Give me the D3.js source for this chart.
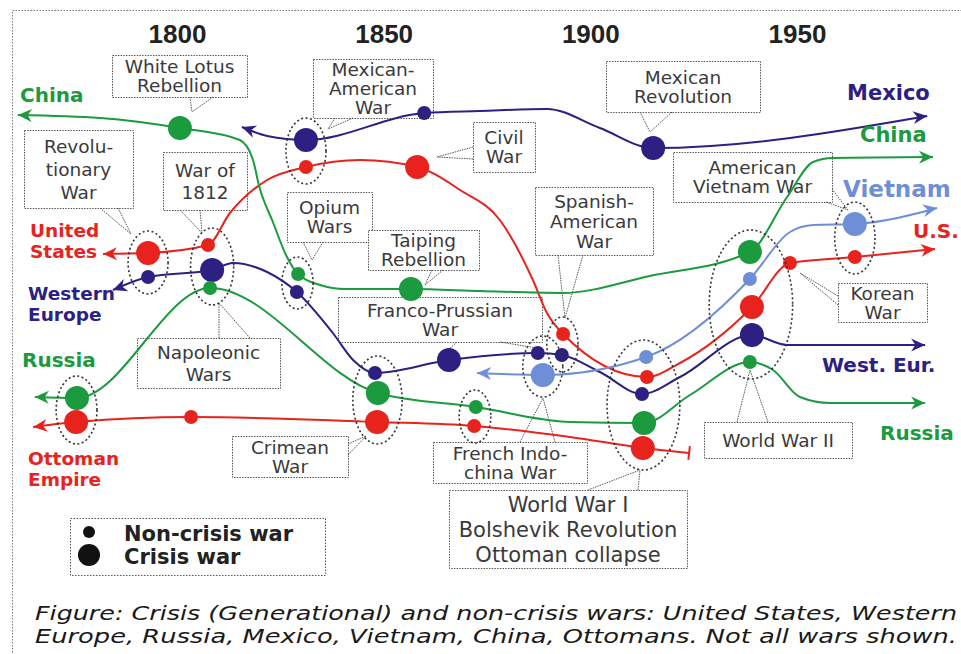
<!DOCTYPE html>
<html>
<head>
<meta charset="utf-8">
<title>Crisis and non-crisis wars</title>
<script src="https://d3js.org/d3.v7.min.js"></script>
<style>
  body { margin: 0; background: #fff; }
  svg { display: block; font-family: "DejaVu Sans", sans-serif; }
  .frame { fill: none; stroke: #777; stroke-dasharray: 1.5,1.5; }
  .callout rect { fill: #fff; stroke: #555; stroke-dasharray: 1.5,1.2; }
  .callout text { fill: #3a3a3a; text-anchor: middle; }
  .callout line { stroke: #555; stroke-dasharray: 1.5,1; }
  .ring { fill: none; stroke: #333; stroke-width: 1.6; stroke-dasharray: 2,2.5; }
  .series path.trend { fill: none; stroke-width: 2; }
  .label { font-weight: bold; font-size: 18.5px; }
  .years text { font-weight: bold; font-size: 26px; fill: #222; }
  .legend text { font-weight: bold; font-size: 21px; fill: #222; }
  .caption { font-style: italic; font-size: 20px; fill: #1a1a1a; }
</style>
</head>
<body>
<svg width="961" height="654"></svg>
<script>
var years = [1800, 1850, 1900, 1950];

// each point: [year, level, war type, war group]
// war type "n" = non-crisis war, "c" = crisis war
var mexico = [
  [1815.7, 88.25], [1821.8, 86], [1831.2, 85, "c", "mexam"], [1859.8, 91.75, "n"],
  [1873.3, 92.25], [1889.5, 92.75], [1902.3, 88], [1915.2, 83, "c"], [1981.5, 91]
];
var unitedStates = [
  [1782.1, 56.5], [1793, 56.75, "c", "rev"], [1807.5, 58.75, "n", "nap"], [1812.8, 66.75],
  [1821.8, 75], [1831.2, 78.25, "n", "mexam"], [1844.3, 80], [1858.1, 78.25, "c"],
  [1868.5, 72.5], [1878.1, 65], [1886.1, 50], [1889.5, 41.75], [1893.4, 36.5, "n", "spam"],
  [1913.7, 25.75, "n", "ww1"], [1921.7, 29.25], [1939.1, 43.25, "c", "ww2"],
  [1948.3, 54.25, "n"], [1964, 55.75, "n", "viet"], [1983.4, 57.75]
];
var westernEurope = [
  [1784.5, 47.5], [1793, 50.75, "n", "rev"], [1808.5, 52.5, "c", "nap"], [1813.5, 54.25],
  [1821.8, 52], [1829, 47, "n", "opium"], [1837.7, 36.75], [1842.6, 30],
  [1847.9, 26.75, "n", "crimea"], [1865.8, 30, "c"], [1887.3, 31.75, "n", "indo"],
  [1893.1, 31.25, "n", "spam"], [1902.3, 27], [1912.5, 21.5, "n", "ww1"], [1921.7, 25.75],
  [1939.1, 36.25, "c", "ww2"], [1947.6, 33.75], [1981, 33.75]
];
var russia = [
  [1765.6, 20.75], [1775.8, 20.5, "c", "rt"], [1808, 48, "n", "nap"],
  [1848.6, 21.75, "c", "crimea"], [1872.3, 18.25, "n", "rt2"], [1895.1, 14.5],
  [1913, 14.25, "c", "ww1"], [1924.1, 21.25], [1938.6, 29.5, "n", "ww2"], [1944.2, 27.5],
  [1950.7, 20.75], [1958, 19.25], [1981, 19.25]
];
var ottoman = [
  [1765.2, 13.25], [1775.6, 14.5, "c", "rt"], [1803.4, 15.75, "n"],
  [1848.4, 14.5, "c", "crimea"], [1871.9, 13.5, "n", "rt2"], [1895.1, 10.75],
  [1912.7, 8, "c", "ww1"], [1923.9, 6.75]
];
var china = [
  [1761.5, 91.25], [1781.4, 90.5], [1800.7, 88, "c"], [1815.2, 85], [1818.4, 80],
  [1819.8, 73.75], [1823.2, 64.5], [1826.6, 55.75], [1829.3, 51.5, "n", "opium"],
  [1834.6, 48.75], [1840.6, 47.75], [1856.6, 47.75, "c"], [1873.3, 47.25], [1893.1, 46.75],
  [1914.4, 51], [1938.6, 57, "c", "ww2"], [1947.6, 70.75], [1953.9, 79.5], [1958.7, 80.5],
  [1982.9, 80.75]
];
var vietnam = [
  [1872.6, 26.75], [1888.5, 26.25, "c", "indo"], [1913.5, 30.75, "n", "ww1"],
  [1938.6, 50.25, "n", "ww2"], [1948.3, 62], [1953.9, 63.75], [1964, 64, "c", "viet"],
  [1983.9, 68]
];

var seriesNames = ["Mexico", "United States", "Western Europe", "Russia", "Ottoman Empire", "China", "Vietnam"];
var seriesData = [mexico, unitedStates, westernEurope, russia, ottoman, china, vietnam];
var circled = ["rev", "nap", "mexam", "opium", "crimea", "rt", "rt2", "indo", "spam", "ww1", "ww2", "viet"];
var warTypes = ["n", "c"];
var legendLabels = ["Non-crisis war", "Crisis war"];
var caption = [
  "Figure: Crisis (Generational) and non-crisis wars: United States, Western",
  "Europe, Russia, Mexico, Vietnam, China, Ottomans.  Not all wars shown."
];

var colour = {
  "Mexico": "#2c2182", "United States": "#e8231d", "Western Europe": "#2c2182",
  "Russia": "#1c9a3e", "Ottoman Empire": "#e8231d", "China": "#1c9a3e", "Vietnam": "#6f8ed8"
};
var endEnd = { "Ottoman Empire": "bar" };

var svg = d3.select("svg");
var x = d3.scaleLinear().domain([1800, 1950]).range([177, 797]);
var y = d3.scaleLinear().domain([0, 100]).range([480, 80]);
var r = d3.scaleOrdinal().domain(warTypes).range([7, 12]);

svg.append("rect").attr("class", "frame")
  .attr("x", 12.5).attr("y", 10.5).attr("width", 980).attr("height", 700);

// year axis along the top
var yearAxis = svg.append("g").attr("class", "years")
  .attr("transform", "translate(0,43)")
  .call(d3.axisTop(x).tickValues(years).tickSize(0).tickPadding(0).tickFormat(d3.format("d")));
yearAxis.select(".domain").remove();
yearAxis.selectAll("text").attr("font-family", null).attr("font-size", null).attr("fill", null);

// callout boxes
var callouts = [
  { lines: ["White Lotus", "Rebellion"], box: [112, 55, 135, 42], segs: [[190, 97, 192, 112], [213, 97, 192, 112]] },
  { lines: ["Mexican-", "American", "War"], box: [313, 59, 120, 59], segs: [[335, 118, 328, 129], [353, 118, 328, 129]] },
  { lines: ["Civil", "War"], box: [473, 122, 62, 50], segs: [[473, 147, 437, 157], [473, 159, 437, 157]] },
  { lines: ["Mexican", "Revolution"], box: [606, 61, 154, 51], segs: [[640, 112, 650, 132], [672, 112, 650, 132]] },
  { lines: ["Revolu-", "tionary", "War"], box: [24, 130, 109, 78], segs: [[100, 208, 131, 234], [118, 208, 131, 234]], lh: 23 },
  { lines: ["War of", "1812"], box: [163, 152, 84, 58], segs: [[180, 210, 202, 233], [200, 210, 202, 233]], lh: 22 },
  { lines: ["Opium", "Wars"], box: [287, 192, 85, 50], segs: [[303, 242, 312, 260], [323, 242, 312, 260]] },
  { lines: ["Taiping", "Rebellion"], box: [368, 230, 111, 40], segs: [[432, 270, 425, 285], [443, 270, 425, 285]] },
  { lines: ["Franco-Prussian", "War"], box: [338, 297, 204, 45], segs: [[457, 342, 449, 349], [500, 342, 537, 348]] },
  { lines: ["Spanish-", "American", "War"], box: [535, 187, 118, 68], segs: [[558, 255, 565, 318], [583, 255, 565, 318]], lh: 20 },
  { lines: ["American", "Vietnam War"], box: [673, 152, 159, 50], segs: [[826, 202, 848, 210], [832, 189, 848, 210]] },
  { lines: ["Napoleonic", "Wars"], box: [137, 338, 143, 50], segs: [[219, 338, 219, 303], [250, 338, 219, 303]], lh: 22 },
  { lines: ["Korean", "War"], box: [838, 283, 89, 39], segs: [[838, 296, 800, 273], [838, 305, 800, 273]] },
  { lines: ["Crimean", "War"], box: [232, 436, 116, 41], segs: [[348, 444, 366, 436], [348, 455, 366, 436]] },
  { lines: ["French Indo-", "china War"], box: [433, 442, 154, 41], segs: [[520, 442, 543, 398], [555, 442, 543, 398]] },
  { lines: ["World War I", "Bolshevik Revolution", "Ottoman collapse"], box: [449, 490, 238, 78], segs: [[588, 490, 640, 470], [638, 490, 640, 470]], lh: 25, size: 21 },
  { lines: ["World War II"], box: [704, 422, 148, 36], segs: [[737, 422, 750, 370], [768, 422, 750, 370]] }
];

var co = svg.append("g").selectAll("g.callout")
  .data(callouts)
  .enter()
  .append("g")
    .attr("class", "callout");
co.append("rect")
  .attr("x", d => d.box[0] + 0.5).attr("y", d => d.box[1] + 0.5)
  .attr("width", d => d.box[2]).attr("height", d => d.box[3]);
co.each(function(d) {
  var g = d3.select(this);
  var lh = d.lh || 19, size = d.size || 18.5;
  var cy = d.box[1] + d.box[3] / 2;
  d.lines.forEach((t, i) => {
    g.append("text")
      .attr("x", d.box[0] + d.box[2] / 2)
      .attr("y", cy + (i - (d.lines.length - 1) / 2) * lh + size * 0.36)
      .style("font-size", size + "px")
      .text(t);
  });
  d.segs.forEach(s => {
    g.append("line").attr("x1", s[0]).attr("y1", s[1]).attr("x2", s[2]).attr("y2", s[3]);
  });
});

// the country lines
var line = d3.line()
  .x(d => x(d[0]))
  .y(d => y(d[1]))
  .curve(d3.curveMonotoneX);

function arrowHead(g, tip, from, col) {
  var a = Math.atan2(tip[1] - from[1], tip[0] - from[0]);
  var L = 14, W = 6.5;
  var c = Math.cos(a), s = Math.sin(a);
  var bx = tip[0] - L * c, by = tip[1] - L * s;
  var nx = tip[0] - L * 0.7 * c, ny = tip[1] - L * 0.7 * s;
  var pts = [tip, [bx - W * s, by + W * c], [nx, ny], [bx + W * s, by - W * c]];
  g.append("path").attr("d", "M" + pts.join("L") + "Z").attr("fill", col);
}

var series = svg.selectAll("g.series")
  .data(seriesNames)
  .enter()
  .append("g")
    .attr("class", "series");

series.append("path")
  .attr("class", "trend")
  .attr("d", (d, i) => line(seriesData[i]))
  .style("stroke", d => colour[d]);

series.each(function(name, i) {
  var g = d3.select(this);
  var pts = seriesData[i].map(p => [x(p[0]), y(p[1])]);
  var n = pts.length;
  arrowHead(g, pts[0], pts[1], colour[name]);
  if (endEnd[name] === "bar") {
    var a = Math.atan2(pts[n - 1][1] - pts[n - 2][1], pts[n - 1][0] - pts[n - 2][0]);
    g.append("line")
      .attr("x1", pts[n - 1][0] - 7 * Math.sin(a)).attr("y1", pts[n - 1][1] + 7 * Math.cos(a))
      .attr("x2", pts[n - 1][0] + 7 * Math.sin(a)).attr("y2", pts[n - 1][1] - 7 * Math.cos(a))
      .style("stroke", colour[name]).style("stroke-width", 2);
  } else {
    arrowHead(g, pts[n - 1], pts[n - 2], colour[name]);
  }
});

series.selectAll("circle")
  .data((d, i) => seriesData[i].filter(p => p[2]))
  .enter()
  .append("circle")
    .attr("cx", d => x(d[0]))
    .attr("cy", d => y(d[1]))
    .attr("r", d => r(d[2]))
    .style("fill", function() { return colour[d3.select(this.parentNode).datum()]; });

// dotted rings round wars fought by several countries
var allPoints = [].concat(...seriesData);
svg.append("g").selectAll("ellipse")
  .data(circled)
  .enter()
  .append("ellipse")
    .attr("class", "ring")
    .each(function(g) {
      var m = allPoints.filter(p => p[3] === g);
      var x0 = d3.min(m, p => x(p[0]) - r(p[2])), x1 = d3.max(m, p => x(p[0]) + r(p[2]));
      var y0 = d3.min(m, p => y(p[1]) - r(p[2])), y1 = d3.max(m, p => y(p[1]) + r(p[2]));
      var ry = (y1 - y0) / 2 + 10;
      var rx = Math.max((x1 - x0) / 2 + 8, ry * 0.56);
      d3.select(this)
        .attr("cx", (x0 + x1) / 2).attr("cy", (y0 + y1) / 2)
        .attr("rx", rx).attr("ry", ry);
    });

// country names
var labels = [
  { s: "China", lines: ["China"], x: 20, y: 102, size: 20 },
  { s: "United States", lines: ["United", "States"], x: 30, y: 237 },
  { s: "Western Europe", lines: ["Western", "Europe"], x: 28, y: 300 },
  { s: "Russia", lines: ["Russia"], x: 22, y: 367, size: 20 },
  { s: "Ottoman Empire", lines: ["Ottoman", "Empire"], x: 28, y: 465 },
  { s: "Mexico", lines: ["Mexico"], x: 847, y: 100, size: 21 },
  { s: "China", lines: ["China"], x: 860, y: 142, size: 21 },
  { s: "Vietnam", lines: ["Vietnam"], x: 843, y: 197, size: 23 },
  { s: "United States", lines: ["U.S."], x: 913, y: 238, size: 20 },
  { s: "Western Europe", lines: ["West. Eur."], x: 822, y: 372, size: 20 },
  { s: "Russia", lines: ["Russia"], x: 880, y: 440, size: 20 }
];
labels.forEach(l => {
  l.lines.forEach((t, i) => {
    svg.append("text")
      .attr("class", "label")
      .attr("x", l.x)
      .attr("y", l.y + i * 21)
      .style("fill", colour[l.s])
      .style("font-size", l.size ? l.size + "px" : null)
      .text(t);
  });
});

// legend
var legend = svg.append("g").attr("class", "legend");
legend.append("rect")
  .attr("class", "frame")
  .attr("x", 70.5).attr("y", 518.5).attr("width", 255).attr("height", 57)
  .style("stroke", "#555");
var li = legend.selectAll("g.item")
  .data(warTypes)
  .enter()
  .append("g")
    .attr("transform", (d, i) => "translate(0," + (532 + i * 23) + ")");
li.append("circle").attr("cx", 89).attr("r", d => r(d) - 1).style("fill", "#111");
li.append("text").attr("x", 124).attr("y", 9).text((d, i) => legendLabels[i]);

// caption
svg.selectAll("text.caption")
  .data(caption)
  .enter()
  .append("text")
    .attr("class", "caption")
    .attr("x", 35)
    .attr("y", (d, i) => 620 + i * 23)
    .attr("textLength", 922)
    .attr("lengthAdjust", "spacingAndGlyphs")
    .text(d => d);
</script>
</body>
</html>
